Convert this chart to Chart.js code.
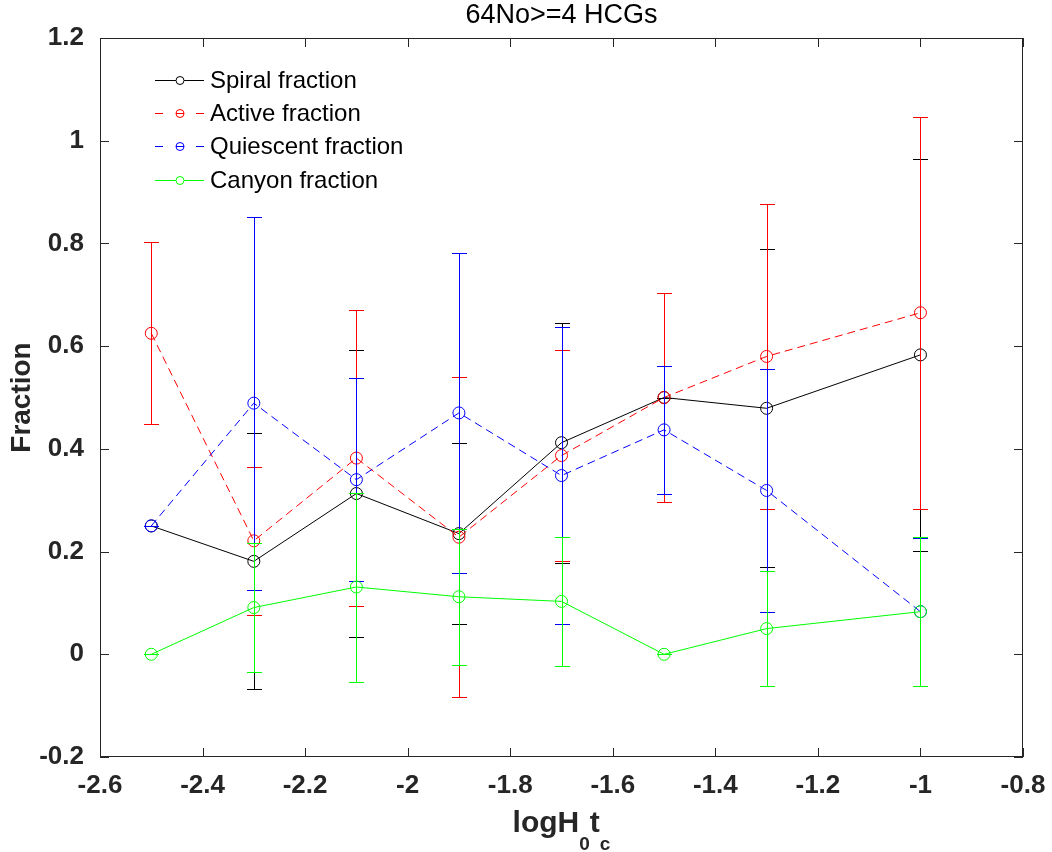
<!DOCTYPE html>
<html>
<head>
<meta charset="utf-8">
<script src="https://cdn.jsdelivr.net/npm/chart.js@4.4.1/dist/chart.umd.min.js"></script>
<style>
  body { margin: 0; background: #fff; }
  #wrap { width: 1052px; height: 852px; }
</style>
</head>
<body>
<div id="wrap"><canvas id="c" width="1052" height="852"></canvas></div>
<script>
// x positions (logH0tc bins)
const xVals = [-2.5, -2.3, -2.1, -1.9, -1.7, -1.5, -1.3, -1.0]

// fractions and their symmetric errors
const spiral = [0.25, 0.181, 0.313, 0.235, 0.412, 0.5, 0.479, 0.583]
const spiralErr = [0, 0.249, 0.28, 0.176, 0.234, 0, 0.31, 0.381]
const active = [0.625, 0.221, 0.382, 0.228, 0.387, 0.5, 0.58, 0.665]
const activeErr = [0.177, 0.144, 0.288, 0.312, 0.206, 0.204, 0.297, 0.382]
const quiescent = [0.25, 0.489, 0.34, 0.47, 0.348, 0.437, 0.319, 0.083]
const quiescentErr = [0, 0.363, 0.198, 0.312, 0.29, 0.125, 0.236, 0.144]
const canyon = [0, 0.091, 0.131, 0.112, 0.103, 0, 0.05, 0.083]
const canyonErr = [0, 0.125, 0.184, 0.132, 0.126, 0, 0.112, 0.145]

const labels = ['Spiral fraction', 'Active fraction', 'Quiescent fraction', 'Canyon fraction']
const titleText = '64No>=4 HCGs'

const FONT = '"Liberation Sans", Arial, Helvetica, sans-serif'
const AXIS = '#262626'

const series = [
    {y: spiral, err: spiralErr, color: '#000000', dash: []},
    {y: active, err: activeErr, color: '#ff0000', dash: [8, 5]},
    {y: quiescent, err: quiescentErr, color: '#0000ff', dash: [8, 5]},
    {y: canyon, err: canyonErr, color: '#00ff00', dash: []}
]

const fmt = v => String(Number(Number(v).toFixed(1)))

// error bars, drawn just under each series' own line and markers
const errorBars = {
    id: 'errorBars',
    beforeDatasetDraw(chart, args) {
        const i = args.index
        const s = series[i]
        const ds = chart.data.datasets[i]
        const xs = chart.scales.x, ys = chart.scales.y
        const ctx = chart.ctx
        ctx.save()
        ctx.setLineDash([])
        ctx.lineWidth = 1
        ctx.strokeStyle = s.color
        ds.data.forEach((p, j) => {
            const e = s.err[j]
            const px = Math.round(xs.getPixelForValue(p.x)) + 0.5
            const top = Math.round(ys.getPixelForValue(p.y + e)) + 0.5
            const bot = Math.round(ys.getPixelForValue(p.y - e)) + 0.5
            ctx.beginPath()
            ctx.moveTo(px, top)
            ctx.lineTo(px, bot)
            ctx.stroke()
            ctx.beginPath()
            ctx.moveTo(px - 7.5, top); ctx.lineTo(px + 7.5, top)
            ctx.moveTo(px - 7.5, bot); ctx.lineTo(px + 7.5, bot)
            ctx.stroke()
        })
        ctx.restore()
    }
}

// matlab-ish frame: box, inward ticks, legend, title and axis labels
const frame = {
    id: 'frame',
    afterDraw(chart) {
        const ctx = chart.ctx
        const {left, right, top, bottom} = chart.chartArea
        const xs = chart.scales.x, ys = chart.scales.y
        ctx.save()
        ctx.strokeStyle = AXIS
        ctx.lineWidth = 1
        ctx.strokeRect(left + 0.5, top + 0.5, right - left - 1, bottom - top - 1)
        ctx.beginPath()
        xs.ticks.forEach(t => {
            const px = Math.round(xs.getPixelForValue(t.value)) + 0.5
            ctx.moveTo(px, bottom); ctx.lineTo(px, bottom - 9)
            ctx.moveTo(px, top); ctx.lineTo(px, top + 9)
        })
        ys.ticks.forEach(t => {
            const py = Math.round(ys.getPixelForValue(t.value)) + 0.5
            ctx.moveTo(left, py); ctx.lineTo(left + 9, py)
            ctx.moveTo(right, py); ctx.lineTo(right - 9, py)
        })
        ctx.stroke()

        // legend (no box, top left inside the axes)
        const rows = [80, 113, 146, 180]
        ctx.font = '24px ' + FONT
        ctx.textBaseline = 'middle'
        ctx.textAlign = 'left'
        chart.data.datasets.forEach((ds, i) => {
            const y = rows[i] + 0.5
            ctx.strokeStyle = series[i].color
            ctx.lineWidth = 1
            ctx.setLineDash([])
            ctx.beginPath()
            if (series[i].dash.length) {
                ctx.moveTo(155, y); ctx.lineTo(163, y)
                ctx.moveTo(176, y); ctx.lineTo(184, y)
                ctx.moveTo(196, y); ctx.lineTo(204, y)
            } else {
                ctx.moveTo(155, y); ctx.lineTo(176, y)
                ctx.moveTo(184, y); ctx.lineTo(204, y)
            }
            ctx.stroke()
            ctx.beginPath()
            ctx.arc(180, y, 4, 0, Math.PI * 2)
            ctx.stroke()
            ctx.fillStyle = '#000'
            ctx.fillText(ds.label, 210, rows[i] + 1)
        })

        // title
        const cx = (left + right) / 2
        ctx.fillStyle = '#000'
        ctx.textAlign = 'center'
        ctx.font = '27px ' + FONT
        ctx.fillText(titleText, cx, 16)

        // y label
        ctx.fillStyle = AXIS
        ctx.font = 'bold 28px ' + FONT
        ctx.save()
        ctx.translate(22, (top + bottom) / 2)
        ctx.rotate(-Math.PI / 2)
        ctx.fillText('Fraction', 0, 0)
        ctx.restore()

        // x label with subscripts: logH_0 t_c
        const big = 'bold 30px ' + FONT, small = 'bold 19px ' + FONT
        const parts = [['logH', big, 0], ['0', small, 1], ['t', big, 0], ['c', small, 1]]
        let w = 0
        parts.forEach(p => { ctx.font = p[1]; w += ctx.measureText(p[0]).width })
        let x = cx - w / 2
        ctx.textAlign = 'left'
        ctx.textBaseline = 'alphabetic'
        parts.forEach(p => {
            ctx.font = p[1]
            ctx.fillText(p[0], x, p[2] ? 850 : 832)
            x += ctx.measureText(p[0]).width
        })
        ctx.restore()
    }
}

const datasets = series.map((s, i) => ({
    label: labels[i],
    data: xVals.map((x, j) => ({x: x, y: s.y[j]})),
    borderColor: s.color,
    borderDash: s.dash,
    borderWidth: 1,
    pointStyle: 'circle',
    pointRadius: 6,
    pointBorderWidth: 1,
    pointBorderColor: s.color,
    pointBackgroundColor: 'rgba(0,0,0,0)',
    fill: false,
    tension: 0,
    order: series.length - 1 - i
}))

const ctx = document.getElementById('c').getContext('2d')
new Chart(ctx, {
    type: 'line',
    data: {datasets: datasets},
    options: {
        responsive: false,
        animation: false,
        devicePixelRatio: 1,
        events: [],
        layout: {padding: {top: 38, right: 29, left: 0, bottom: 0}},
        plugins: {
            legend: {display: false},
            title: {display: false},
            tooltip: {enabled: false}
        },
        scales: {
            x: {
                type: 'linear',
                min: -2.6,
                max: -0.8,
                grid: {display: false},
                border: {display: false},
                ticks: {
                    stepSize: 0.2,
                    maxRotation: 0,
                    padding: 5,
                    color: AXIS,
                    font: {family: FONT, size: 26, weight: 'bold'},
                    callback: fmt
                },
                afterFit: s => { s.height = 95 }
            },
            y: {
                type: 'linear',
                min: -0.2,
                max: 1.2,
                grid: {display: false},
                border: {display: false},
                ticks: {
                    stepSize: 0.2,
                    padding: 8,
                    color: AXIS,
                    font: {family: FONT, size: 26, weight: 'bold'},
                    callback: fmt
                },
                afterFit: s => { s.width = 100 }
            }
        }
    },
    plugins: [errorBars, frame]
})
</script>
</body>
</html>
